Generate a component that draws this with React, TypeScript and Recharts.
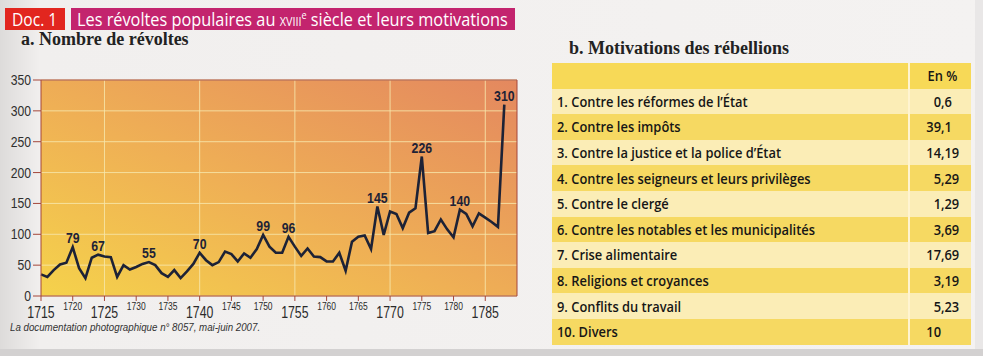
import React, { useLayoutEffect, useRef, useState } from 'react';
import { LineChart, Line, XAxis, YAxis, CartesianGrid, ReferenceLine, LabelList } from 'recharts';

// années et nombre de révoltes
const years = [
  1715, 1716, 1717, 1718, 1719, 1720, 1721, 1722, 1723, 1724,
  1725, 1726, 1727, 1728, 1729, 1730, 1731, 1732, 1733, 1734,
  1735, 1736, 1737, 1738, 1739, 1740, 1741, 1742, 1743, 1744,
  1745, 1746, 1747, 1748, 1749, 1750, 1751, 1752, 1753, 1754,
  1755, 1756, 1757, 1758, 1759, 1760, 1761, 1762, 1763, 1764,
  1765, 1766, 1767, 1768, 1769, 1770, 1771, 1772, 1773, 1774,
  1775, 1776, 1777, 1778, 1779, 1780, 1781, 1782, 1783, 1784,
  1785, 1786, 1787, 1788,
];
const revolts = [
  35, 31, 42, 51, 54, 79, 45, 29, 62, 67,
  64, 63, 31, 50, 43, 47, 52, 55, 50, 37,
  31, 42, 29, 40, 52, 70, 58, 50, 55, 72,
  68, 56, 69, 62, 76, 99, 80, 70, 70, 96,
  80, 65, 77, 64, 63, 56, 56, 70, 41, 88,
  96, 98, 76, 145, 99, 137, 133, 110, 135, 142,
  226, 102, 105, 124, 108, 95, 140, 133, 113, 134,
  127, 120, 112, 310,
];
const labelYears = [1720, 1724, 1732, 1740, 1750, 1754, 1768, 1775, 1781, 1788];
const xTicks = [1715, 1720, 1725, 1730, 1735, 1740, 1745, 1750, 1755, 1760, 1765, 1770, 1775, 1780, 1785];
const bigTicks = [1715, 1725, 1740, 1755, 1770, 1785];
const gridYears = [1725, 1740, 1755, 1770, 1785];
const yTicks = [0, 50, 100, 150, 200, 250, 300, 350];

const motives = [
  '1. Contre les réformes de l’État',
  '2. Contre les impôts',
  '3. Contre la justice et la police d’État',
  '4. Contre les seigneurs et leurs privilèges',
  '5. Contre le clergé',
  '6. Contre les notables et les municipalités',
  '7. Crise alimentaire',
  '8. Religions et croyances',
  '9. Conflits du travail',
  '10. Divers',
];
const shares = ['0,6', '39,1', '14,19', '5,29', '1,29', '3,69', '17,69', '3,19', '5,23', '10'];

const data = years.map((year, i) => ({ year, n: revolts[i] }));

const sans = "'Liberation Sans', Arial, sans-serif";
const humanist = "'Open Sans', 'Noto Sans', sans-serif";
const axisColor = '#a4473a';
const gridColor = '#f7e6aa';

// texte svg compressé horizontalement (police étroite absente)
const CondText = ({ x, y, s, anchor = 'middle', size, bold = false, fill = '#2a2a2a', children }: any) => (
  <text transform={`translate(${x},${y}) scale(${s},1)`} textAnchor={anchor} fontFamily={sans}
    fontSize={size} fontWeight={bold ? 'bold' : 'normal'} fill={fill}>
    {children}
  </text>
);

// span html ramené à une largeur donnée
const Squeeze = ({ width, origin = 'left', style, children }: any) => {
  const ref = useRef<HTMLSpanElement>(null);
  const [s, setS] = useState(1);
  useLayoutEffect(() => {
    if (ref.current && ref.current.offsetWidth) setS(width / ref.current.offsetWidth);
  }, [width]);
  return (
    <span ref={ref} style={{ display: 'inline-block', whiteSpace: 'nowrap', transform: `scaleX(${s})`,
      transformOrigin: `${origin} center`, ...style }}>
      {children}
    </span>
  );
};

const YearTick = (props: any) => {
  const { x, y, payload } = props;
  const big = bigTicks.includes(payload.value);
  return (
    <CondText x={x} y={y + (big ? 15 : 7)} s={0.77} size={big ? 16 : 11}>
      {payload.value}
    </CondText>
  );
};

const CountTick = (props: any) => {
  const { x, y, payload } = props;
  return (
    <CondText x={x} y={y + 5} s={0.84} size={14.5} anchor="end" fill="#2e2e2e">
      {payload.value}
    </CondText>
  );
};

const PeakLabel = (props: any) => {
  const { x, y, index } = props;
  if (!labelYears.includes(data[index].year)) return null;
  return (
    <CondText x={x} y={y - 4} s={0.82} size={15} bold fill="#1d2236">
      {data[index].n}
    </CondText>
  );
};

const RevoltChart = () => (
  <LineChart width={530} height={266} data={data} margin={{ top: 20, right: 13, bottom: 0, left: 0 }}>
    <defs>
      <linearGradient id="plotBg" x1="0" y1="1" x2="1" y2="0">
        <stop offset="0%" stopColor="#f5d24b" />
        <stop offset="45%" stopColor="#efb055" />
        <stop offset="100%" stopColor="#e4885f" />
      </linearGradient>
    </defs>
    <CartesianGrid vertical={false} fill="url(#plotBg)" fillOpacity={1} stroke={gridColor} strokeOpacity={0.85} />
    {gridYears.map(g => (
      <ReferenceLine key={g} x={g} stroke={gridColor} strokeOpacity={0.85} />
    ))}
    <ReferenceLine y={350} stroke={axisColor} />
    <ReferenceLine x={1790} stroke={axisColor} />
    <XAxis dataKey="year" type="number" domain={[1715, 1790]} ticks={xTicks} interval={0}
      tick={<YearTick />} tickSize={5} height={30} stroke={axisColor} />
    <YAxis type="number" domain={[0, 350]} ticks={yTicks} interval={0} width={41} tickSize={8}
      tickMargin={2} stroke={axisColor} tick={<CountTick />} />
    <Line type="linear" dataKey="n" stroke="#1d2236" strokeWidth={2.6} dot={false}
      isAnimationActive={false} strokeLinejoin="miter">
      <LabelList dataKey="n" content={<PeakLabel />} />
    </Line>
  </LineChart>
);

const rowH = 25.6;
const tableScale = 0.92;

const MotiveTable = () => (
  <div style={{ position: 'absolute', left: 552, top: 63, width: 419, fontFamily: humanist,
    fontSize: 14, fontWeight: 600, color: '#161616' }}>
    {['', ...motives].map((m, i) => {
      const v = i === 0 ? null : shares[i - 1];
      const [ip, dp] = v ? v.split(',') : ['', undefined];
      const bg = i === 0 ? '#f7d957' : i % 2 === 1 ? '#fbedb6' : '#f6d962';
      const sq = { display: 'inline-block', whiteSpace: 'nowrap' as const };
      return (
        <div key={i} style={{ display: 'flex', height: rowH, alignItems: 'center', background: bg }}>
          <div style={{ width: 356, paddingLeft: 5, boxSizing: 'border-box', overflow: 'visible' }}>
            <span style={{ ...sq, transform: `scaleX(${tableScale})`, transformOrigin: 'left center' }}>{m}</span>
          </div>
          <div style={{ width: 2, alignSelf: 'stretch', background: '#fff4d0' }} />
          <div style={{ flex: 1, display: 'flex' }}>
            {i === 0 ? (
              <div style={{ width: '100%', textAlign: 'right', paddingRight: 14 }}>
                <span style={{ ...sq, transform: `scaleX(${tableScale})`, transformOrigin: 'right center' }}>En %</span>
              </div>
            ) : (
              <>
                <div style={{ width: 31, textAlign: 'right' }}>
                  <span style={{ ...sq, transform: `scaleX(${tableScale})`, transformOrigin: 'right center' }}>{ip}</span>
                </div>
                <div style={{ textAlign: 'left' }}>
                  <span style={{ ...sq, transform: `scaleX(${tableScale})`, transformOrigin: 'left center' }}>
                    {dp !== undefined ? ',' + dp : ''}
                  </span>
                </div>
              </>
            )}
          </div>
        </div>
      );
    })}
  </div>
);

export default function App() {
  return (
    <div style={{ position: 'absolute', left: 0, top: 0, width: 983, height: 356, overflow: 'hidden',
      background: 'linear-gradient(90deg, #dddbda 0px, #f1efee 40px, #f4f2f1 100%)' }}>
      <div style={{ position: 'absolute', left: 5, top: 8, width: 60, height: 22, background: '#e2261f',
        color: '#fff', fontFamily: humanist, fontSize: 18, lineHeight: '22px', paddingLeft: 7,
        boxSizing: 'border-box' }}>
        <Squeeze width={45}>Doc. 1</Squeeze>
      </div>
      <div style={{ position: 'absolute', left: 71, top: 8, width: 444, height: 22, background: '#c3246e',
        color: '#fff', fontFamily: humanist, fontSize: 18, lineHeight: '22px', paddingLeft: 6,
        boxSizing: 'border-box' }}>
        <Squeeze width={431}>
          Les révoltes populaires au <span style={{ fontSize: 12 }}>XVIII</span>
          <sup style={{ fontSize: 10, lineHeight: 0 }}>e</sup> siècle et leurs motivations
        </Squeeze>
      </div>
      <div style={{ position: 'absolute', left: 21, top: 29, fontFamily: "'Liberation Serif', serif",
        fontWeight: 'bold', fontSize: 18, color: '#222' }}>
        a. Nombre de révoltes
      </div>
      <div style={{ position: 'absolute', left: 569, top: 38, fontFamily: "'Liberation Serif', serif",
        fontWeight: 'bold', fontSize: 18, color: '#222' }}>
        b. Motivations des rébellions
      </div>
      <div style={{ position: 'absolute', left: 0, top: 60 }}>
        <RevoltChart />
      </div>
      <div style={{ position: 'absolute', left: 10, top: 322, fontFamily: sans, fontStyle: 'italic',
        fontSize: 11.5, lineHeight: '11px', color: '#333' }}>
        <Squeeze width={250}>La documentation photographique n° 8057, mai-juin 2007.</Squeeze>
      </div>
      <MotiveTable />
      <div style={{ position: 'absolute', left: 0, top: 349, width: 983, height: 7, background: '#d3d1d1' }} />
      <div style={{ position: 'absolute', left: 975, top: 0, width: 8, height: 349, background: '#e9e7e7' }} />
    </div>
  );
}
